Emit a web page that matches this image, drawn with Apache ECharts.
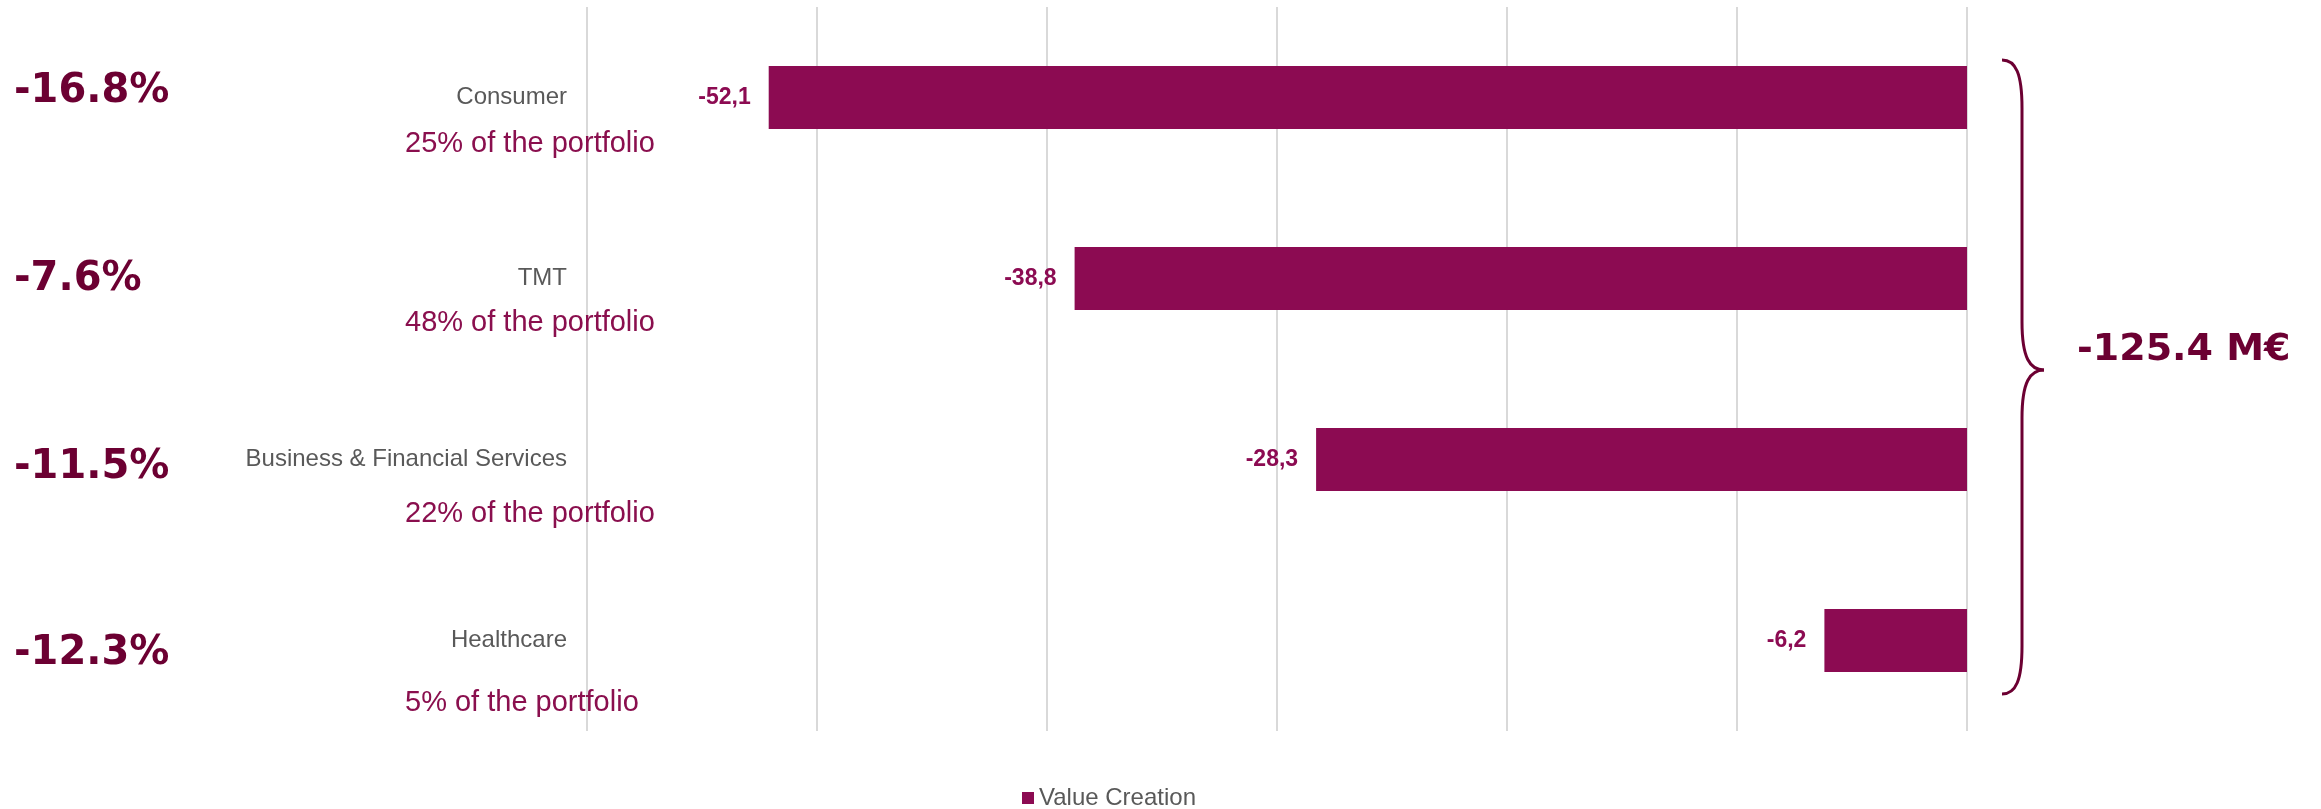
<!DOCTYPE html>
<html>
<head>
<meta charset="utf-8">
<script src="https://cdn.jsdelivr.net/npm/echarts@6/dist/echarts.min.js"></script>
<style>
  html, body { margin: 0; padding: 0; background: #ffffff; }
  #chart { width: 2321px; height: 809px; }
</style>
</head>
<body>
<div id="chart"></div>
<script>
// Value creation by sector (M€)
const sectors = ['Consumer', 'TMT', 'Business & Financial Services', 'Healthcare'];
const valueCreation = [-52.1, -38.8, -28.3, -6.2];
const portfolioShare = [25, 48, 22, 5];        // % of the portfolio
const sectorReturn = [-16.8, -7.6, -11.5, -12.3]; // % change per sector
const axisTicks = [-60, -50, -40, -30, -20, -10, 0];
const seriesName = 'Value Creation';

// Layout of the side annotations
const returnLabelY = [92, 280, 468, 654];
const shareLabelY = [144, 323, 514, 703];

const BAR = '#8c0b52';
const DARK = '#6c0032';
const GREY = '#595959';

const fmtComma = v => v.toFixed(1).replace('.', ',');
const total = valueCreation.reduce((a, b) => a + b, 0);

const chart = echarts.init(document.getElementById('chart'), null, { renderer: 'canvas' });

const graphics = [];
sectorReturn.forEach((r, i) => {
  graphics.push({
    type: 'text', x: 14, y: returnLabelY[i], z: 100,
    style: {
      text: r.toFixed(1) + '%', fill: DARK,
      font: 'bold 40px "DejaVu Sans", Verdana, sans-serif',
      align: 'left', verticalAlign: 'middle'
    }
  });
});
portfolioShare.forEach((p, i) => {
  graphics.push({
    type: 'text', x: 405, y: shareLabelY[i], z: 100,
    style: {
      text: p + '% of the portfolio', fill: '#8a0f4e',
      font: '29px "Liberation Sans", Arial, sans-serif',
      align: 'left', verticalAlign: 'middle'
    }
  });
});

// Brace grouping all sectors: curved ends joined by straight runs
const braceStyle = { fill: null, stroke: DARK, lineWidth: 3 };
const braceX = 2022, braceEnd = 2002, braceTip = 2044;
const braceTop = 60, braceBottom = 694, braceMid = 370, curl = 48;
const curve = (x1, y1, cx1, cy1, cx2, cy2, x2, y2) => ({
  type: 'bezierCurve', z: 100,
  shape: { x1, y1, x2, y2, cpx1: cx1, cpy1: cy1, cpx2: cx2, cpy2: cy2 },
  style: braceStyle
});
const seg = (x1, y1, x2, y2) => ({ type: 'line', z: 100, shape: { x1, y1, x2, y2 }, style: braceStyle });
graphics.push(
  curve(braceEnd, braceTop, braceEnd + 14, braceTop, braceX, braceTop + 14, braceX, braceTop + curl),
  seg(braceX, braceTop + curl, braceX, braceMid - curl),
  curve(braceX, braceMid - curl, braceX, braceMid - 12, braceX + 8, braceMid, braceTip, braceMid),
  curve(braceTip, braceMid, braceX + 8, braceMid, braceX, braceMid + 12, braceX, braceMid + curl),
  seg(braceX, braceMid + curl, braceX, braceBottom - curl),
  curve(braceX, braceBottom - curl, braceX, braceBottom - 14, braceEnd + 14, braceBottom, braceEnd, braceBottom)
);
graphics.push({
  type: 'text', x: 2077, y: 350, z: 100,
  style: {
    text: total.toFixed(1) + ' M€', fill: DARK,
    font: 'bold 38px "DejaVu Sans", Verdana, sans-serif',
    align: 'left', verticalAlign: 'middle'
  }
});

chart.setOption({
  animation: false,
  backgroundColor: '#ffffff',
  grid: { left: 587, right: 354, top: 7, height: 724, containLabel: false },
  legend: {
    data: [seriesName],
    left: 1017, top: 781,
    icon: 'rect', itemWidth: 12, itemHeight: 12, itemGap: 10,
    textStyle: { fontSize: 24, color: GREY, fontFamily: '"Liberation Sans", Arial, sans-serif' }
  },
  xAxis: {
    type: 'value',
    min: axisTicks[0], max: axisTicks[axisTicks.length - 1],
    interval: axisTicks[1] - axisTicks[0],
    axisLabel: { show: false },
    axisLine: { show: false },
    axisTick: { show: false },
    splitLine: { show: true, lineStyle: { color: '#d9d9d9', width: 2 } }
  },
  yAxis: {
    type: 'category',
    data: sectors,
    inverse: true,
    position: 'left',
    axisLine: { show: false },
    axisTick: { show: false },
    axisLabel: {
      margin: 20, fontSize: 24, color: GREY,
      fontFamily: '"Liberation Sans", Arial, sans-serif'
    }
  },
  series: [{
    name: seriesName,
    type: 'bar',
    data: valueCreation,
    barWidth: 63,
    itemStyle: { color: BAR },
    label: {
      show: true, position: 'left', distance: 18,
      formatter: p => fmtComma(p.value),
      fontSize: 23, fontWeight: 'bold', color: BAR,
      fontFamily: '"Liberation Sans", Arial, sans-serif'
    }
  }],
  graphic: graphics
});
</script>
</body>
</html>
